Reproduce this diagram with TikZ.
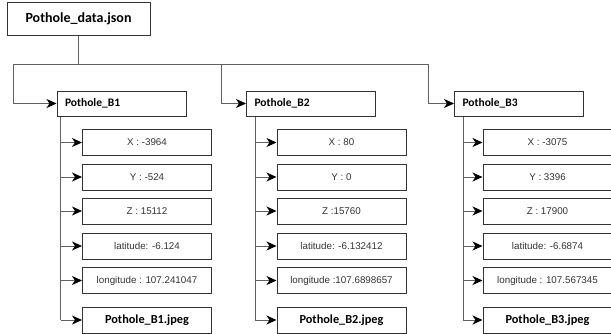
\documentclass[tikz,border=0pt]{standalone}
\usepackage{fontspec}
\setmainfont{Liberation Sans}
\newfontfamily\boldfam{Carlito}
\usetikzlibrary{arrows.meta}
\definecolor{linegray}{HTML}{606060}
\definecolor{boxgray}{HTML}{333333}
\begin{document}
\begin{tikzpicture}[x=1pt,y=-1pt,
  box/.style={draw=boxgray, line width=1pt, fill=white},
  rootbox/.style={box, minimum width=143pt, minimum height=33pt, inner sep=0pt, font=\boldfam\bfseries\fontsize{14}{16}\selectfont},
  pbox/.style={box, minimum width=129pt, minimum height=25pt, inner sep=0pt, text width=113pt, align=left, font=\boldfam\bfseries\fontsize{11.5}{13}\selectfont},
  cbox/.style={box, minimum width=129pt, minimum height=26pt, inner sep=0pt, text=boxgray, font=\fontsize{9.8}{11}\selectfont},
  jbox/.style={cbox, text=black, font=\boldfam\bfseries\fontsize{12.3}{14}\selectfont},
  conn/.style={draw=linegray, line width=1pt},
  arr/.style={conn, -{Stealth[length=10pt 0,width=9pt 0,inset=3pt 0,color=black,fill=black]}}]
\useasboundingbox (0,0) rectangle (611,333);
% root
\node[rootbox] (root) at (78.5,18.5) {Pothole\_data.json};
% B nodes
\node[pbox] (B1) at (121.5,103.5) {Pothole\_B1};
\node[pbox] (B2) at (311,103.5) {Pothole\_B2};
\node[pbox] (B3) at (519,103.5) {Pothole\_B3};
% bus
\coordinate (j1) at (13,64);
\coordinate (j2) at (221,64);
\coordinate (j3) at (428,64);
\draw[conn] (root.south) -- (root.south |- j1);
\draw[conn] (j1) -- (j3);
\draw[arr] (j1) |- (B1.west);
\draw[arr] (j2) |- (B2.west);
\draw[arr] (j3) |- (B3.west);
% children B1
\node[cbox] (a1) at (147,142.5) {X : -3964};
\node[cbox] (a2) at (147,177) {Y : -524};
\node[cbox] (a3) at (147,211) {Z : 15112};
\node[cbox] (a4) at (147,246) {latitude: -6.124};
\node[cbox] (a5) at (147,280.5) {longitude : 107.241047};
\node[jbox] (a6) at (147,320) {Pothole\_B1.jpeg};
% children B2
\node[cbox] (b1) at (341.5,142.5) {X : 80};
\node[cbox] (b2) at (341.5,177) {Y : 0};
\node[cbox] (b3) at (341.5,211) {Z :15760};
\node[cbox] (b4) at (341.5,246) {latitude: -6.132412};
\node[cbox] (b5) at (341.5,280.5) {longitude :107.6898657};
\node[jbox] (b6) at (341.5,320) {Pothole\_B2.jpeg};
% children B3
\node[cbox] (c1) at (547.5,142.5) {X : -3075};
\node[cbox] (c2) at (547.5,177) {Y : 3396};
\node[cbox] (c3) at (547.5,211) {Z : 17900};
\node[cbox] (c4) at (547.5,246) {latitude: -6.6874};
\node[cbox] (c5) at (547.5,280.5) {longitude : 107.567345};
\node[jbox] (c6) at (547.5,320) {Pothole\_B3.jpeg};
% trunks
\coordinate (t1) at ([xshift=4pt]B1.south west);
\coordinate (t2) at ([xshift=9pt]B2.south west);
\coordinate (t3) at ([xshift=9pt]B3.south west);
\draw[conn] (t1) -- (t1 |- a6.west);
\draw[conn] (t2) -- (t2 |- b6.west);
\draw[conn] (t3) -- (t3 |- c6.west);
\foreach \n in {a1,a2,a3,a4,a5,a6} \draw[arr] (t1 |- \n.west) -- (\n.west);
\foreach \n in {b1,b2,b3,b4,b5,b6} \draw[arr] (t2 |- \n.west) -- (\n.west);
\foreach \n in {c1,c2,c3,c4,c5,c6} \draw[arr] (t3 |- \n.west) -- (\n.west);
\end{tikzpicture}
\end{document}
